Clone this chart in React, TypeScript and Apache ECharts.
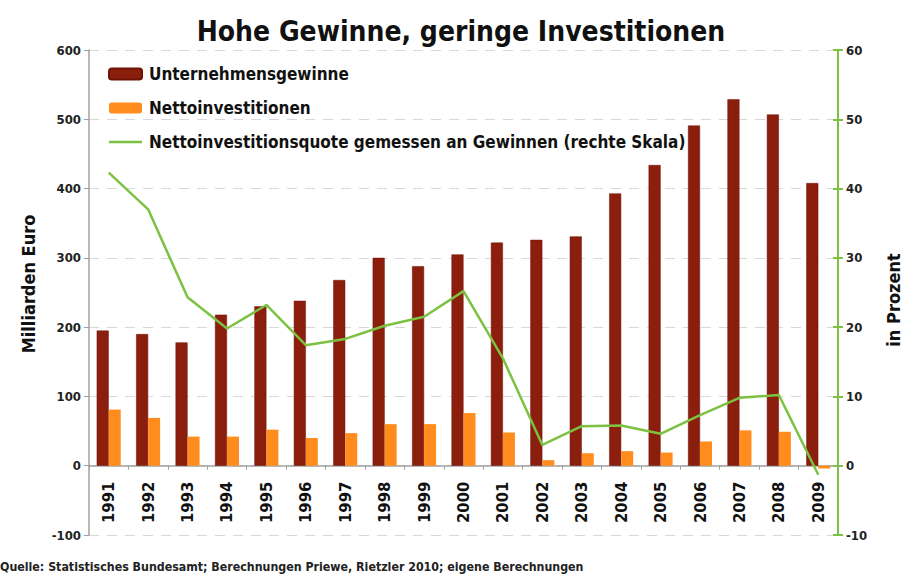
import React, { useEffect, useRef } from "react";
import * as echarts from "echarts";

const years = ["1991","1992","1993","1994","1995","1996","1997","1998","1999","2000","2001","2002","2003","2004","2005","2006","2007","2008","2009"];
const gewinne = [195, 190, 178, 218, 230, 238, 268, 300, 288, 305, 322, 326, 331, 393, 434, 491, 529, 507, 408];
const investitionen = [81, 69, 42, 42, 52, 40, 47, 60, 60, 76, 48, 8, 18, 21, 19, 35, 51, 49, -4];
const quote = [42.3, 37, 24.3, 19.8, 23.2, 17.4, 18.3, 20.2, 21.5, 25.2, 15.5, 3.0, 5.7, 5.8, 4.6, 7.3, 9.8, 10.2, -1.3];

const FONT = "'DejaVu Sans Condensed', 'Liberation Sans Narrow', 'Open Sans', sans-serif";
const GREEN = "#7dc142";
const LINE_NAME = "Nettoinvestitionsquote gemessen an Gewinnen (rechte Skala)";

export default function App() {
  const ref = useRef<HTMLDivElement>(null);
  useEffect(() => {
    const chart = echarts.init(ref.current!, null, { renderer: "svg" });
    chart.setOption({
      animation: false,
      backgroundColor: "#fff",
      textStyle: { fontFamily: FONT },
      title: {
        text: "Hohe Gewinne, geringe Investitionen",
        left: 456, top: 12, textAlign: "center",
        textStyle: { fontFamily: FONT, fontSize: 28, fontWeight: "bold", color: "#111" },
      },
      graphic: [
        {
          type: "text", left: 0, top: 561,
          style: { text: "Quelle: Statistisches Bundesamt; Berechnungen Priewe, Rietzler 2010; eigene Berechnungen", font: `bold 12.3px ${FONT}`, fill: "#222" },
        },
        {
          type: "text", x: 28, y: 284, rotation: Math.PI / 2,
          style: { text: "Milliarden Euro", font: `bold 18px ${FONT}`, fill: "#111", align: "center", verticalAlign: "middle" },
        },
        {
          type: "text", x: 893, y: 300, rotation: Math.PI / 2,
          style: { text: "in Prozent", font: `bold 18px ${FONT}`, fill: "#111", align: "center", verticalAlign: "middle" },
        },
      ],
      legend: {
        orient: "vertical", left: 103, top: 59, itemWidth: 33, itemHeight: 11, itemGap: 14,
        textStyle: { fontFamily: FONT, fontSize: 17, lineHeight: 20, fontWeight: "bold", color: "#111", padding: [0, 0, 0, 2] },
        data: [
          { name: "Unternehmensgewinne" },
          { name: "Nettoinvestitionen" },
          { name: LINE_NAME, icon: "path://M0,0 L33,0 L33,2.5 L0,2.5 Z" },
        ],
      },
      grid: { left: 89, right: 65, top: 50, bottom: 42 },
      xAxis: {
        type: "category", data: years,
        offset: -69.3,
        axisLine: { onZero: false, lineStyle: { color: "#a0a0a0", width: 1.5 } },
        axisTick: { show: true, length: 4, lineStyle: { color: "#a0a0a0" } },
        axisLabel: { rotate: 90, fontFamily: FONT, fontSize: 16.5, fontWeight: "bold", color: "#111", margin: 16 },
      },
      yAxis: [
        {
          type: "value", min: -100, max: 600, interval: 100,
          axisLine: { show: true, lineStyle: { color: "#a0a0a0", width: 1.5 } },
          axisTick: { show: true, length: 5, lineStyle: { color: "#a0a0a0" } },
          axisLabel: { fontFamily: FONT, fontSize: 13, fontWeight: "bold", color: "#222", margin: 8 },
          splitLine: { show: true, lineStyle: { color: "#d8d8d8", type: [10, 8], width: 1.2 } },
        },
        {
          type: "value", min: -10, max: 60, interval: 10, position: "right",
          axisLine: { show: true, lineStyle: { color: GREEN, width: 2 } },
          axisTick: { show: true, length: 5, lineStyle: { color: GREEN, width: 2 } },
          axisLabel: { fontFamily: FONT, fontSize: 13, fontWeight: "bold", color: "#222", margin: 8 },
          splitLine: { show: false },
        },
        {
          type: "value", min: -10, max: 60, interval: 10, position: "right",
          axisLine: { show: false },
          axisTick: { show: true, inside: true, length: 5, lineStyle: { color: GREEN, width: 2 } },
          axisLabel: { show: false },
          splitLine: { show: false },
        },
      ],
      series: [
        {
          name: "Unternehmensgewinne", type: "bar", data: gewinne, barWidth: 12, barGap: "0%",
          itemStyle: { color: "#8b1e0c", borderColor: "#6e1206", borderWidth: 0.5 },
        },
        {
          name: "Nettoinvestitionen", type: "bar", data: investitionen, barWidth: 12, barGap: "0%",
          itemStyle: { color: "#ff8c1c" },
        },
        {
          name: LINE_NAME, type: "line", yAxisIndex: 1,
          data: quote, symbol: "none", lineStyle: { color: GREEN, width: 2.5 }, itemStyle: { color: GREEN },
        },
      ],
    });
    return () => chart.dispose();
  }, []);
  return <div ref={ref} style={{ width: 903, height: 577, position: "absolute", left: 0, top: 0 }} />;
}
